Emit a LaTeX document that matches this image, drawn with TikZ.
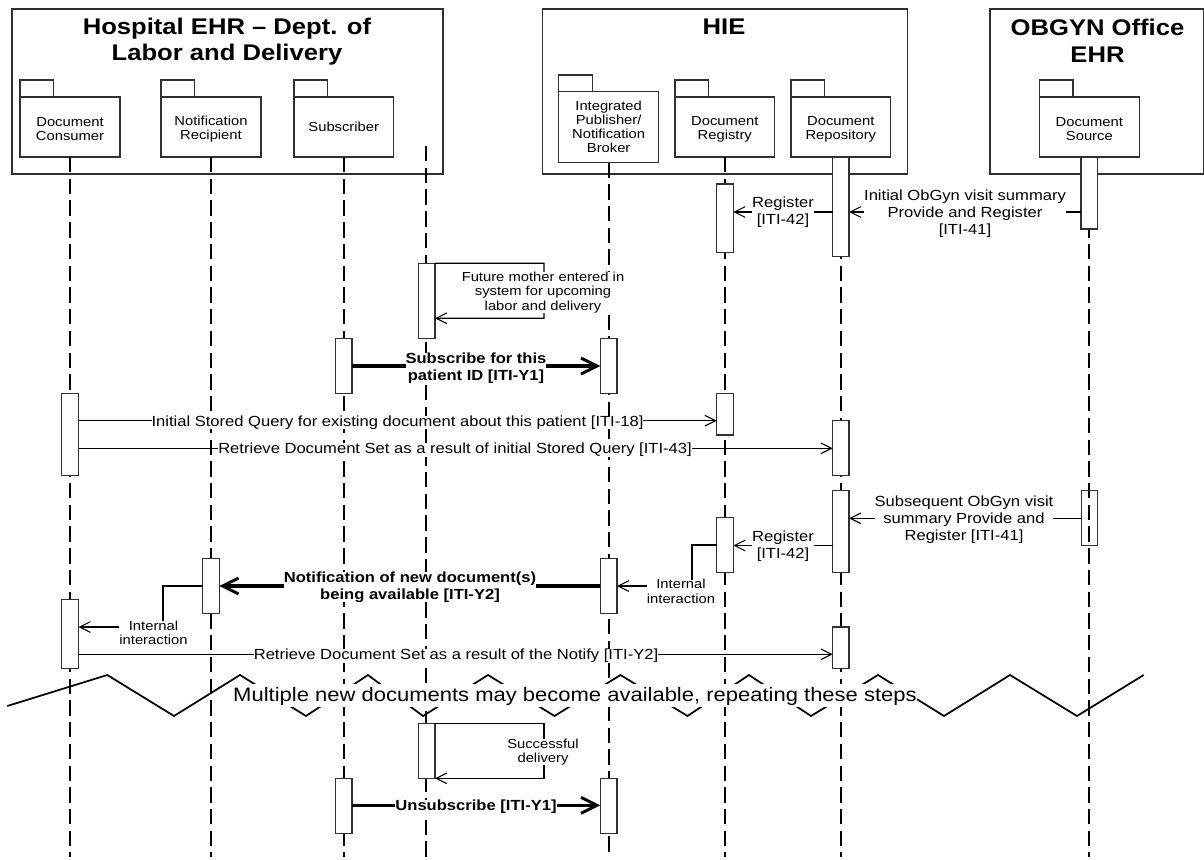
\documentclass[tikz,border=0pt]{standalone}
\usepackage{fontspec}
\setmainfont[FakeStretch=1.13]{Liberation Sans}
\usetikzlibrary{arrows.meta}
\definecolor{edge}{HTML}{303030}
\newcommand{\rectnode}[7][]{%
  \pgfmathsetmacro\bw{(#5-#3)*0.75}%
  \pgfmathsetmacro\bh{(#6-#4)*0.75}%
  \node[#1,minimum width=\bw pt,minimum height=\bh pt] (#2) at ({(#3+#5)/2},{(#4+#6)/2}) {#7};}
\newcommand{\up}{\rule{0pt}{10pt}}
\tikzset{
  frame/.style={draw=edge,line width=1pt,inner sep=0pt,outer sep=0pt},
  pkg/.style={draw=edge,fill=white,line width=0.85pt,inner sep=0pt,outer sep=0pt,align=center,
    font=\fontsize{9.8}{10.6}\selectfont},
  act/.style={draw=edge,fill=white,line width=0.85pt,inner sep=0pt,outer sep=0pt},
  actopen/.style={draw=edge,line width=0.85pt,inner sep=0pt,outer sep=0pt},
  life/.style={line width=1.5pt,dash pattern=on 11.5pt off 4.8pt},
  msg/.style={line width=0.9pt,-{Straight Barb[length=8pt,width=8pt,line width=0.8pt]}},
  bigmsg/.style={line width=2.4pt,-{Straight Barb[length=12pt,width=12pt,line width=2.2pt]}},
  title/.style={font=\fontsize{17}{20}\bfseries\selectfont,align=center,inner sep=0pt},
  lab/.style={fill=white,inner sep=0pt,align=center,font=\fontsize{11}{12.6}\selectfont},
  labsmall/.style={fill=white,inner sep=0pt,align=center,font=\fontsize{9.8}{10.8}\selectfont},
  labbold/.style={fill=white,inner sep=0pt,align=center,font=\fontsize{11}{12.6}\bfseries\selectfont},
  labwide/.style={fill=white,inner sep=0pt,align=center,font=\fontsize{11}{12}\selectfont},
  banner/.style={fill=white,inner sep=0pt,text height=12.75pt,text depth=4.5pt,font=\fontsize{14.6}{16}\selectfont},
}
\begin{document}
\begin{tikzpicture}[x=0.75pt,y=-0.75pt]
\useasboundingbox (0,0) rectangle (1204,860);
% system frames
\rectnode[frame]{fh}{12}{9}{443}{174}{}
\rectnode[frame]{fi}{542.5}{9}{907.5}{174}{}
\rectnode[frame]{fo}{990}{9}{1204}{174}{}
\node[title] (th) at (227,41.5) {Hospital EHR – Dept. of\\Labor and Delivery};
\node[title] (ti) at (724,27) {HIE};
\node[title] (to) at (1097.5,41) {OBGYN Office\\EHR};
% package tabs and bodies
\rectnode[pkg]{tdc}{20}{80}{53.5}{97}{}
\rectnode[pkg]{dc}{20}{97}{120}{157}{\up Document\\Consumer}
\rectnode[pkg]{tnr}{161}{80}{194.5}{97}{}
\rectnode[pkg]{nr}{161}{97}{261}{157}{\up Notification\\Recipient}
\rectnode[pkg]{tsu}{294}{80}{327.5}{97}{}
\rectnode[pkg]{su}{294}{97}{393.5}{157}{Subscriber}
\rectnode[pkg]{tib}{558.8}{75}{592.4}{91.5}{}
\rectnode[pkg]{ib}{558.8}{91.5}{658.5}{162.5}{Integrated\\Publisher/\\Notification\\Broker}
\rectnode[pkg]{trg}{675}{80}{708.5}{97}{}
\rectnode[pkg]{rg}{675}{97}{774.6}{157}{\up Document\\Registry}
\rectnode[pkg]{trp}{791}{80}{824.5}{97}{}
\rectnode[pkg]{rp}{791}{97}{890.7}{157}{\up Document\\Repository}
\rectnode[pkg]{tsr}{1039.5}{80}{1073}{97}{}
\rectnode[pkg]{sr}{1039.5}{97}{1139.2}{157}{\up Document\\Source}
% lifelines
\coordinate (endy) at (0,857);
\coordinate (ctltop) at (426,146);
\coordinate (ctlend) at (426,860);
\draw[life] (ctltop) -- (ctlend);
\foreach \n in {dc,nr,su,ib,rg,rp,sr} \draw[life] (\n.south) -- (\n.south |- endy);
% activation bars
\rectnode[act]{arg1}{716.7}{184}{733.3}{252.7}{}
\rectnode[act]{arp1}{832.7}{157}{849}{256.7}{}
\rectnode[act]{asr1}{1081}{157}{1097.5}{229}{}
\rectnode[act]{actl1}{418.3}{263.3}{435}{338.7}{}
\rectnode[act]{asu1}{335.3}{338.7}{352}{393.7}{}
\rectnode[act]{aib1}{600.3}{338.7}{617}{393.7}{}
\rectnode[act]{adc1}{61.7}{393.3}{78.5}{475.7}{}
\rectnode[act]{arg2}{716.7}{393.3}{733.3}{435}{}
\rectnode[act]{arp2}{832.7}{420.7}{849}{475.7}{}
\rectnode[act]{arp3}{832.7}{490.7}{849}{572.3}{}
\rectnode[actopen]{asr2}{1081.3}{490.7}{1097.3}{545.7}{}
\rectnode[act]{arg3}{716.7}{517.3}{733.3}{572.3}{}
\rectnode[act]{aib2}{600.3}{558.3}{617}{613.3}{}
\rectnode[act]{anr}{202.7}{558.3}{219.3}{613.3}{}
\rectnode[act]{adc2}{61.7}{599.5}{78.5}{668.3}{}
\rectnode[act]{arp4}{832.7}{627}{849}{668.3}{}
\rectnode[act]{actl2}{418.3}{723.3}{435}{778.3}{}
\rectnode[act]{asu2}{335.3}{778.3}{352}{833.3}{}
\rectnode[act]{aib3}{600.3}{778.3}{617}{833.3}{}
% turning points of the self and internal messages
\coordinate (s1a) at (544,263.3);
\coordinate (s1b) at (544,318.3);
\coordinate (s2a) at (544,723.3);
\coordinate (s2b) at (544,778.3);
\coordinate (i1a) at (692,545);
\coordinate (i1b) at (692,586);
\coordinate (i2a) at (163,586);
\coordinate (i2b) at (163,627);
% messages
\draw[msg] (asr1.west |- 0,212) -- (arp1.east |- 0,212);
\draw[msg] (arp1.west |- 0,212) -- (arg1.east |- 0,212);
\draw[msg] (actl1.north east) -- (s1a) -- (s1b) -- (actl1.east |- s1b);
\draw[bigmsg] (asu1.east |- 0,366) -- (aib1.west |- 0,366);
\draw[msg] (adc1.east |- 0,420.7) -- (arg2.west |- 0,420.7);
\draw[msg] (adc1.east |- 0,448.3) -- (arp2.west |- 0,448.3);
\draw[msg] (asr2.west |- 0,518.3) -- (arp3.east |- 0,518.3);
\draw[msg] (arp3.west |- 0,545.5) -- (arg3.east |- 0,545.5);
\draw[msg] (arg3.west |- i1a) -- (i1a) -- (i1b) -- (aib2.east |- i1b);
\draw[bigmsg] (aib2.west |- i2a) -- (anr.east |- i2a);
\draw[msg] (anr.west |- i2a) -- (i2a) -- (i2b) -- (adc2.east |- i2b);
\draw[msg] (adc2.east |- 0,654.3) -- (arp4.west |- 0,654.3);
\draw[msg] (actl2.north east) -- (s2a) -- (s2b) -- (actl2.east |- s2b);
\draw[bigmsg] (asu2.east |- 0,805.3) -- (aib3.west |- 0,805.3);
% message labels
\node[lab] (l1) at (965,213.5) {Initial ObGyn visit summary\\Provide and Register\\[0pt][ITI-41]};
\node[lab] (l2) at (783,212.5) {Register\\[0pt][ITI-42]};
\node[labsmall] (l3) at (543,292.5) {Future mother entered in\\system for upcoming\\labor and delivery};
\node[labbold] (l4) at (476,368) {Subscribe for this\\patient ID [ITI-Y1]};
\node[labwide] (l5) at (397.5,422.5) {Initial Stored Query for existing document about this patient [ITI-18]};
\node[labwide] (l6) at (455,450) {Retrieve Document Set as a result of initial Stored Query [ITI-43]};
\node[lab] (l7) at (964,519.5) {Subsequent ObGyn visit\\summary Provide and\\Register [ITI-41]};
\node[lab] (l8) at (783,546.5) {Register\\[0pt][ITI-42]};
\node[labsmall] (l9) at (681,591.5) {Internal\\interaction};
\node[labbold] (l10) at (410,587) {Notification of new document(s)\\being available [ITI-Y2]};
\node[labsmall] (l11) at (153.5,633) {Internal\\interaction};
\node[labwide] (l12) at (456,656) {Retrieve Document Set as a result of the Notify [ITI-Y2]};
\node[labsmall] (l13) at (543,752) {Successful\\delivery};
\node[labbold] (l14) at (476,807) {Unsubscribe [ITI-Y1]};
% break line
\draw[line width=1.3pt,line join=miter] (7.3,706) -- (107.3,675) -- (174,716) -- (240,675) -- (306,716) -- (368,675) -- (423,716) -- (488,675) -- (554.5,716) -- (620.5,675) -- (687.5,716) -- (749,675) -- (811,716) -- (878,675) -- (944,716) -- (1010,675) -- (1077,716) -- (1143.7,675);
\node[banner] (bn) at (575,695.5) {Multiple new documents may become available, repeating these steps};
\end{tikzpicture}
\end{document}
